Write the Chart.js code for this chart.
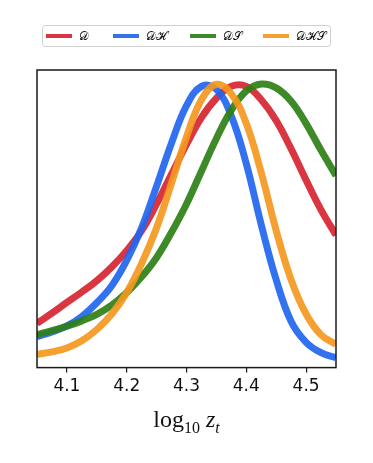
<!DOCTYPE html>
<html>
<head>
<meta charset="utf-8">
<script src="https://cdn.jsdelivr.net/npm/chart.js@4/dist/chart.umd.min.js"></script>
<style>
  html, body { margin: 0; padding: 0; background: #fff; }
  #wrap { width: 373px; height: 463px; }
</style>
</head>
<body>
<div id="wrap"><canvas id="kde"></canvas></div>
<script>
// log10 z_t grid and normalised densities
const zt = [4.05, 4.075, 4.1, 4.125, 4.15, 4.175, 4.2, 4.225, 4.25, 4.275, 4.3,
            4.325, 4.35, 4.375, 4.4, 4.425, 4.45, 4.475, 4.5, 4.525, 4.55];
const densD   = [0.149, 0.183, 0.219, 0.254, 0.292, 0.338, 0.393, 0.46, 0.55, 0.65, 0.75,
                 0.84, 0.905, 0.945, 0.945, 0.9, 0.83, 0.735, 0.63, 0.53, 0.445];
const densDH  = [0.104, 0.12, 0.14, 0.172, 0.218, 0.275, 0.36, 0.47, 0.61, 0.755, 0.88,
                 0.945, 0.935, 0.845, 0.685, 0.48, 0.295, 0.155, 0.085, 0.05, 0.033];
const densDS  = [0.111, 0.124, 0.139, 0.157, 0.179, 0.21, 0.252, 0.305, 0.37, 0.455, 0.55,
                 0.66, 0.77, 0.865, 0.93, 0.953, 0.94, 0.895, 0.82, 0.73, 0.645];
const densDHS = [0.044, 0.053, 0.066, 0.09, 0.128, 0.18, 0.252, 0.35, 0.47, 0.62, 0.775,
                 0.9, 0.952, 0.92, 0.82, 0.655, 0.46, 0.295, 0.18, 0.11, 0.078];

const seriesNames = ['𝒟', '𝒟ℋ', '𝒟𝒮', '𝒟ℋ𝒮'];
const xTicks = [4.1, 4.2, 4.3, 4.4, 4.5];

const colors = ['rgba(214,37,50,0.92)', 'rgba(33,102,240,0.92)', 'rgba(46,128,22,0.92)', 'rgba(244,152,30,0.92)'];

function toPoints(ys) {
    return ys.map((y, i) => ({ x: zt[i], y: y }));
}

// frame round the plot, boxed legend on top, math-style x label
const framePlugin = {
    id: 'frame',
    afterDraw(chart) {
        const ctx = chart.ctx;
        const a = chart.chartArea;
        ctx.save();
        ctx.strokeStyle = '#1a1a1a';
        ctx.lineWidth = 1.5;
        ctx.strokeRect(a.left, a.top, a.right - a.left, a.bottom - a.top);

        // legend, one slot per series
        const slots = [46, 113, 190, 263];
        ctx.font = '12px "DejaVu Serif"';
        ctx.textBaseline = 'middle';
        const y = 36;
        chart.data.datasets.forEach((ds, i) => {
            const x = slots[i];
            ctx.fillStyle = ds.borderColor;
            ctx.fillRect(x, y - 2, 26, 4);
            ctx.fillStyle = '#111';
            ctx.fillText(ds.label, x + 33, y + 1);
        });
        ctx.strokeStyle = '#cfcfcf';
        ctx.lineWidth = 1;
        ctx.beginPath();
        ctx.roundRect(42.5, 25.5, 288, 21, 3);
        ctx.stroke();

        // x label: log_10 z_t
        const parts = [
            { t: 'log', f: '24px "Liberation Serif"', dy: 0 },
            { t: '10', f: '16px "Liberation Serif"', dy: 6 },
            { t: ' ', f: '24px "Liberation Serif"', dy: 0 },
            { t: 'z', f: 'italic 24px "Liberation Serif"', dy: 0 },
            { t: 't', f: 'italic 16px "Liberation Serif"', dy: 6 }
        ];
        ctx.textBaseline = 'alphabetic';
        ctx.fillStyle = '#111';
        let w = 0;
        parts.forEach(p => { ctx.font = p.f; p.w = ctx.measureText(p.t).width; w += p.w; });
        let tx = (a.left + a.right) / 2 - w / 2;
        const by = a.bottom + 59;
        parts.forEach(p => {
            ctx.font = p.f;
            ctx.fillText(p.t, tx, by + p.dy);
            tx += p.w;
        });
        ctx.restore();
    }
};

const datasets = [densD, densDH, densDS, densDHS].map((ys, i) => ({
    label: seriesNames[i],
    data: toPoints(ys),
    borderColor: colors[i],
    backgroundColor: colors[i],
    borderWidth: 7,
    pointRadius: 0,
    tension: 0.4,
    fill: false,
    order: 4 - i
}));

new Chart(document.getElementById('kde'), {
    type: 'line',
    data: { datasets: datasets },
    options: {
        responsive: true,
        maintainAspectRatio: false,
        animation: false,
        layout: { padding: { left: 37, right: 37, top: 70, bottom: 62 } },
        plugins: {
            legend: { display: false },
            tooltip: { enabled: false }
        },
        scales: {
            x: {
                type: 'linear',
                min: 4.05,
                max: 4.55,
                afterBuildTicks: axis => { axis.ticks = xTicks.map(v => ({ value: v })); },
                border: { display: false },
                grid: { drawOnChartArea: false, drawTicks: true, tickLength: 5, color: '#1a1a1a', lineWidth: 1.2 },
                ticks: {
                    color: '#111',
                    padding: 4,
                    maxRotation: 0,
                    font: { family: 'DejaVu Sans', size: 17 },
                    callback: v => v.toFixed(1)
                },
                title: { display: false }
            },
            y: {
                display: false,
                min: 0,
                max: 1
            }
        }
    },
    plugins: [framePlugin]
});
</script>
</body>
</html>
